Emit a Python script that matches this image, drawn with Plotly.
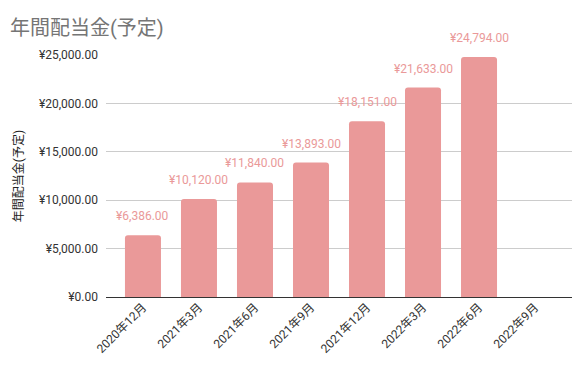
import plotly.graph_objects as go

categories = ["2020年12月", "2021年3月", "2021年6月", "2021年9月", "2021年12月", "2022年3月", "2022年6月", "2022年9月"]
values = [6386, 10120, 11840, 13893, 18151, 21633, 24794, None]

bar_color = "#EA9999"

fig = go.Figure(go.Bar(
    x=categories, y=values,
    marker=dict(color=bar_color, cornerradius=3, line=dict(width=0)),
))

for c, v in zip(categories, values):
    if v is None:
        continue
    fig.add_annotation(x=c, y=v, text="¥{:,.2f}".format(v), showarrow=False,
                       yanchor="middle", yshift=19,
                       font=dict(color=bar_color, size=12, family="Roboto"))

fig.update_layout(
    width=588, height=367,
    margin=dict(l=98, r=24, t=47, b=78),
    paper_bgcolor="white", plot_bgcolor="white",
    font=dict(family="Roboto", size=12, color="#333333"),
    title=dict(text="年間配当金(予定)", x=0.0, xanchor="left", y=0.945, yanchor="middle",
               pad=dict(l=2),
               font=dict(size=20, color="#757575", family="Roboto, Noto Sans CJK JP")),
    bargap=0.357,
    showlegend=False,
)
fig.update_xaxes(tickangle=-45, showgrid=False, showline=False, ticks="", automargin=False,
                 range=[-0.66, len(categories) - 0.34],
                 tickfont=dict(size=12, color="#333333", family="Roboto, Noto Sans CJK JP"))
fig.update_yaxes(range=[0, 25000], dtick=5000, tickprefix="¥", tickformat=",.2f",
                 showgrid=True, gridcolor="#CCCCCC", gridwidth=1, automargin=False,
                 zeroline=True, zerolinecolor="#333333", zerolinewidth=1,
                 ticks="", ticklabelstandoff=7,
                 tickfont=dict(size=12, color="#333333"),
                 title=dict(text="年間配当金(予定)", standoff=12,
                            font=dict(size=12, color="#222222", family="Roboto, Noto Sans CJK JP")))

fig.write_html("out.html")
